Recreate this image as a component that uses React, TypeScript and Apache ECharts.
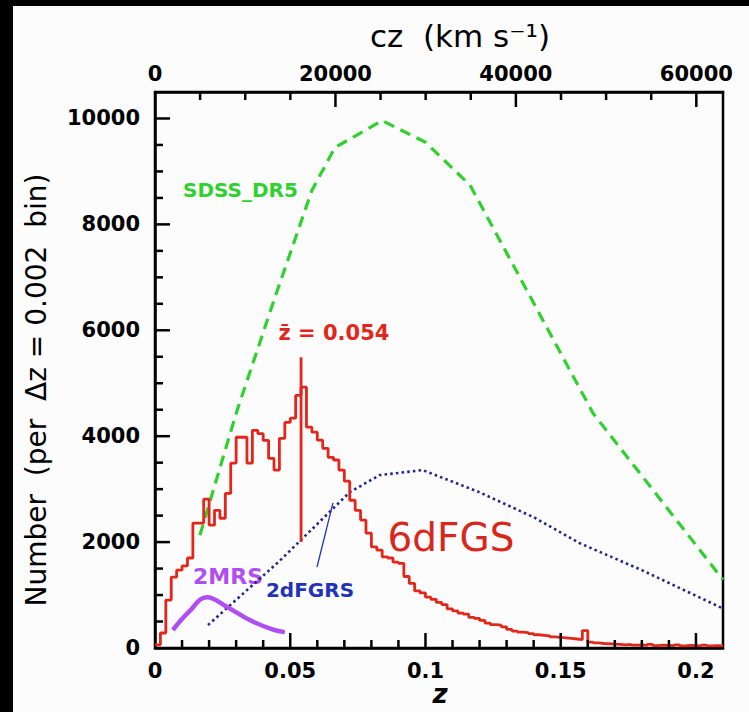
import React, { useEffect, useRef } from 'react';
import * as echarts from 'echarts';

// ---- data ----
const C_KMS = 299792.458;
const Z_MAX = 0.21;
const N_MAX = 10500;
const BIN_WIDTH = 0.002;

// 6dFGS histogram counts per 0.002 bin, from z = 0
const sixdfCounts = [
  60, 283, 906, 1340, 1470, 1550, 1700, 2360, 2360, 2810,
  2320, 2600, 2450, 2920, 3490, 3980, 3980, 3490, 4110, 4050,
  3920, 3580, 3360, 3960, 4260, 4340, 4770, 4925, 4170, 4075,
  3925, 3770, 3600, 3550, 3360, 3150, 2790, 2600, 2415, 2170,
  1910, 1850, 1720, 1700, 1620, 1600, 1350, 1220, 1080, 1040,
  960, 920, 860, 820, 740, 700, 660, 640, 580, 560,
  520, 470, 440, 430, 400, 350, 320, 300, 290, 270,
  250, 240, 230, 210, 200, 190, 180, 170, 160, 330,
  110, 95, 85, 80, 75, 70, 60, 70, 55, 60,
  50, 70, 45, 55, 50, 45, 60, 40, 50, 45,
  40, 55, 40, 45, 40,
];
// narrow spike at the mean redshift
const spikeZ = [0.054, 0.054];
const spikeN = [2000, 5490];

const sdssZ = [0.0166, 0.03, 0.044, 0.058, 0.0665, 0.084, 0.1, 0.1165, 0.162, 0.21];
const sdssN = [2130, 4430, 6570, 8640, 9450, 9960, 9550, 8740, 4430, 1290];

const twodfZ = [0.0196, 0.0462, 0.072, 0.083, 0.099, 0.12, 0.14, 0.157, 0.18, 0.2096];
const twodfN = [434, 1650, 2943, 3264, 3360, 2940, 2470, 1980, 1470, 755];

const twomrsZ = [0.0066, 0.0125, 0.0192, 0.0265, 0.035, 0.0437, 0.048];
const twomrsN = [340, 680, 960, 780, 528, 345, 300];

// leader line from the 2dFGRS label to its curve
const leaderZ = [0.0658, 0.0599];
const leaderN = [2740, 1530];

// axis tick values
const zMajorTicks = [0.05, 0.1, 0.15, 0.2];
const zMinorTicks = [0.01, 0.02, 0.03, 0.04, 0.06, 0.07, 0.08, 0.09, 0.11, 0.12, 0.13, 0.14, 0.16, 0.17, 0.18, 0.19];
const czMajorTicks = [20000, 40000, 60000];
const czMinorTicks = [5000, 10000, 15000, 25000, 30000, 35000, 45000, 50000, 55000];
const nMajorTicks = [2000, 4000, 6000, 8000, 10000];
const nMinorTicks = [500, 1000, 1500, 2500, 3000, 3500, 4500, 5000, 5500, 6500, 7000, 7500, 8500, 9000, 9500];

const zTickStep = 0.05;
const czTickStep = 20000;
const nTickStep = 2000;

const FONT = 'DejaVu Sans';

export default function App() {
  const ref = useRef<HTMLDivElement>(null);

  useEffect(() => {
    if (!ref.current) return;
    const chart = echarts.init(ref.current, null, { renderer: 'svg' });

    const histData: number[][] = sixdfCounts.map((n, i) => [i * BIN_WIDTH, n]);
    histData.push([Z_MAX, sixdfCounts[sixdfCounts.length - 1]]);
    const zip = (a: number[], b: number[]) => a.map((v, i) => [v, b[i]]);

    const black = '#000';
    const mkLabel = (margin: number) => ({
      show: true,
      margin,
      showMaxLabel: false,
      color: black,
      fontFamily: FONT,
      fontWeight: 'bold',
      fontSize: 21,
      formatter: (v: number) => String(parseFloat(v.toFixed(3))),
    });
    const mkLine = () => ({ show: true, onZero: false, lineStyle: { color: black, width: 2.5 } });

    const texts: any[] = [
      {
        type: 'text',
        style: {
          x: 460, y: 36, text: 'cz  (km s\u207B\u00B9)', fill: black,
          font: `31px "${FONT}"`, textAlign: 'center', textVerticalAlign: 'middle',
        },
      },
      {
        type: 'text',
        style: {
          x: 440, y: 694, text: 'z', fill: black,
          font: `italic bold 26px "${FONT}"`, textAlign: 'center', textVerticalAlign: 'middle',
        },
      },
      {
        type: 'text', x: 36, y: 390, rotation: Math.PI / 2,
        style: {
          x: 0, y: 0, text: 'Number  (per  \u0394z = 0.002  bin)', fill: black,
          font: `28px "${FONT}"`, textAlign: 'center', textVerticalAlign: 'middle',
        },
      },
      {
        type: 'text',
        style: {
          x: 183, y: 190, text: 'SDSS_DR5', fill: '#2fd12f',
          font: `bold 20px "${FONT}"`, textAlign: 'left', textVerticalAlign: 'middle',
        },
      },
      {
        type: 'text',
        style: {
          x: 334, y: 333, text: 'z\u0304 = 0.054', fill: '#e3261b',
          font: `bold 21px "${FONT}"`, textAlign: 'center', textVerticalAlign: 'middle',
        },
      },
      {
        type: 'text',
        style: {
          x: 451, y: 537, text: '6dFGS', fill: '#d8281b',
          font: `39px "${FONT}"`, textAlign: 'center', textVerticalAlign: 'middle',
        },
      },
      {
        type: 'text',
        style: {
          x: 310, y: 590, text: '2dFGRS', fill: '#2233b8',
          font: `bold 20px "${FONT}"`, textAlign: 'center', textVerticalAlign: 'middle',
        },
      },
      {
        type: 'text',
        style: {
          x: 228, y: 576, text: '2MRS', fill: '#b04ef2',
          font: `bold 22px "${FONT}"`, textAlign: 'center', textVerticalAlign: 'middle',
        },
      },
    ];

    chart.setOption({
      animation: false,
      grid: {
        left: 155,
        right: 26,
        top: 92,
        bottom: 64,
        show: true,
        borderColor: black,
        borderWidth: 2.5,
      },
      xAxis: [
        {
          type: 'value', position: 'bottom', min: 0, max: Z_MAX, interval: zTickStep,
          axisLine: mkLine(), axisTick: { show: false },
          axisLabel: mkLabel(12), splitLine: { show: false },
        },
        {
          type: 'value', position: 'top', min: 0, max: Z_MAX * C_KMS, interval: czTickStep,
          axisLine: mkLine(), axisTick: { show: false },
          axisLabel: mkLabel(8), splitLine: { show: false },
        },
      ],
      yAxis: [
        {
          type: 'value', position: 'left', min: 0, max: N_MAX, interval: nTickStep,
          axisLine: mkLine(), axisTick: { show: false },
          axisLabel: mkLabel(15), splitLine: { show: false },
        },
      ],
      series: [
        {
          name: 'SDSS_DR5', type: 'line', data: zip(sdssZ, sdssN), symbol: 'none',
          lineStyle: { color: '#2fd12f', width: 3.2, type: [11, 7] }, z: 3,
        },
        {
          name: '2dFGRS', type: 'line', data: zip(twodfZ, twodfN), symbol: 'none',
          lineStyle: { color: '#23238f', width: 2.6, type: [2.5, 3.2] }, z: 3,
        },
        {
          name: '6dFGS', type: 'line', step: 'end', data: histData, symbol: 'none',
          lineStyle: { color: '#e3261b', width: 2.8 }, z: 4,
        },
        {
          name: '6dFGS spike', type: 'line', data: zip(spikeZ, spikeN), symbol: 'none',
          lineStyle: { color: '#e3261b', width: 2.8 }, z: 4,
        },
        {
          name: '2MRS', type: 'line', smooth: 0.4, data: zip(twomrsZ, twomrsN), symbol: 'none',
          lineStyle: { color: '#b04ef2', width: 4.5 }, z: 5,
        },
        {
          name: 'leader', type: 'line', data: zip(leaderZ, leaderN), symbol: 'none',
          lineStyle: { color: '#2233b8', width: 1.3 }, z: 5,
        },
      ],
      graphic: texts,
    });

    // tick marks as thin rectangles, positioned through the chart's own scales
    const MAJOR = 15;
    const MINOR = 8;
    const W = 2.5;
    const px = (z: number, n: number): number[] =>
      chart.convertToPixel({ gridIndex: 0 }, [z, n]) as number[];
    const ticks: any[] = [];
    const addX = (z: number, n: number, len: number, down: boolean) => {
      const p = px(z, n);
      if (!p || !isFinite(p[0]) || !isFinite(p[1])) return;
      ticks.push({
        type: 'rect', z: 100,
        shape: { x: p[0] - W / 2, y: down ? p[1] : p[1] - len, width: W, height: len },
        style: { fill: black },
      });
    };
    const addY = (n: number, len: number) => {
      const p = px(0, n);
      if (!p || !isFinite(p[0]) || !isFinite(p[1])) return;
      ticks.push({
        type: 'rect', z: 100,
        shape: { x: p[0], y: p[1] - W / 2, width: len, height: W },
        style: { fill: black },
      });
    };
    zMajorTicks.forEach((z) => addX(z, 0, MAJOR, false));
    zMinorTicks.forEach((z) => addX(z, 0, MINOR, false));
    czMajorTicks.forEach((cz) => addX(cz / C_KMS, N_MAX, MAJOR, true));
    czMinorTicks.forEach((cz) => addX(cz / C_KMS, N_MAX, MINOR, true));
    nMajorTicks.forEach((n) => addY(n, MAJOR));
    nMinorTicks.forEach((n) => addY(n, MINOR));

    chart.setOption({ graphic: [...texts, ...ticks] });

    return () => chart.dispose();
  }, []);

  return (
    <div style={{ position: 'absolute', left: 0, top: 0, width: 749, height: 712, background: '#000', overflow: 'hidden' }}>
      <div style={{ position: 'absolute', left: 13, top: 6, width: 736, height: 706, background: '#fcfcfc' }} />
      <div ref={ref} style={{ position: 'absolute', left: 0, top: 0, width: 749, height: 712 }} />
    </div>
  );
}
